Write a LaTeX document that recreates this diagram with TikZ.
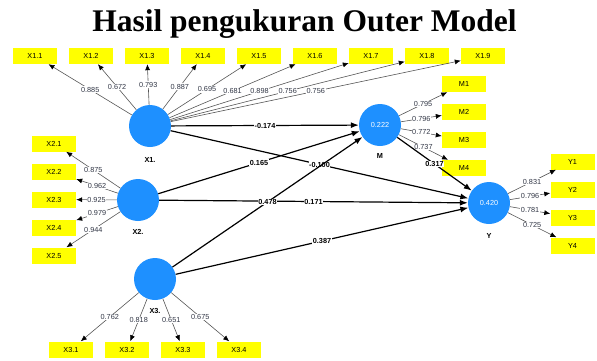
\documentclass[tikz,border=0pt]{standalone}
\usepackage{fontspec}
\setmainfont{Liberation Serif}
\setsansfont{Liberation Sans}
\usetikzlibrary{arrows.meta, positioning}
\definecolor{lvblue}{RGB}{30,144,255}
\definecolor{indyellow}{RGB}{255,255,0}
\definecolor{loadgray}{RGB}{85,85,85}
\definecolor{loadtext}{RGB}{50,55,70}

\tikzset{
  latent/.style={circle, fill=lvblue, minimum size=42pt, inner sep=0pt, text=white,
    font=\sffamily\fontsize{7.3}{8}\selectfont},
  indicator/.style={rectangle, fill=indyellow, minimum width=44pt, minimum height=16pt,
    inner sep=0pt, font=\sffamily\fontsize{7.3}{8}\selectfont},
  lvname/.style={inner sep=1pt, font=\sffamily\bfseries\fontsize{7.3}{8}\selectfont},
  loading/.style={draw=loadgray, line width=0.6pt, -{Latex[length=6pt,width=5pt,color=black]}},
  pathcoef/.style={draw=black, line width=1.2pt, -{Latex[length=8pt,width=6pt]}},
  loadlabel/.style={fill=white, inner sep=0.6pt, text=loadtext,
    font=\sffamily\fontsize{7.3}{8}\selectfont},
  coeflabel/.style={fill=white, inner sep=0.6pt,
    font=\sffamily\bfseries\fontsize{7.3}{8}\selectfont}
}

\begin{document}
\begin{tikzpicture}[x=1pt,y=-1pt]
\useasboundingbox (0,0) rectangle (597,360);

\node[anchor=base, inner sep=0pt, font=\bfseries\fontsize{31.5}{36}\selectfont] (title) at (304.5,31) {Hasil pengukuran Outer Model};

% latent variables
\node[latent] (X1) at (150,126) {};
\node[latent] (X2) at (138,200) {};
\node[latent] (X3) at (155,279) {};
\node[latent] (M) at (380,125) {0.222};
\node[latent] (Y) at (489,203) {0.420};

\node[lvname, below=9pt of X1] (X1name) {X1.};
\node[lvname, below=7pt of X2] (X2name) {X2.};
\node[lvname, below=7pt of X3] (X3name) {X3.};
\node[lvname, below=6pt of M] (Mname) {M};
\node[lvname, below=8pt of Y] (Yname) {Y};

% indicators
\foreach \i in {1,...,9} \node[indicator] (X1\i) at ({35+56*(\i-1)},56) {X1.\i};
\foreach \i in {1,...,5} \node[indicator] (X2\i) at (54,{143.5+28*(\i-1)}) {X2.\i};
\foreach \i in {1,...,4} \node[indicator] (X3\i) at ({71+56*(\i-1)},349.5) {X3.\i};
\foreach \i in {1,...,4} \node[indicator] (M\i) at (464,{84+28*(\i-1)}) {M\i};
\foreach \i in {1,...,4} \node[indicator] (Y\i) at (572.5,{161.5+28*(\i-1)}) {Y\i};

% outer loadings
\foreach \i/\v in {1/0.885, 2/0.672, 3/0.793, 4/0.887, 5/0.695, 6/0.681, 7/0.898, 8/0.756, 9/0.756}
  \draw[loading] (X1) -- node[loadlabel]{\v} (X1\i);
\foreach \i/\v in {1/0.875, 2/0.962, 3/0.925, 4/0.979, 5/0.944}
  \draw[loading] (X2) -- node[loadlabel]{\v} (X2\i);
\foreach \i/\v in {1/0.762, 2/0.818, 3/0.651, 4/0.675}
  \draw[loading] (X3) -- node[loadlabel]{\v} (X3\i);
\foreach \i/\v in {1/0.795, 2/0.796, 3/0.772, 4/0.737}
  \draw[loading] (M) -- node[loadlabel]{\v} (M\i);
\foreach \i/\v in {1/0.831, 2/0.796, 3/0.781, 4/0.725}
  \draw[loading] (Y) -- node[loadlabel]{\v} (Y\i);

% inner model
\draw[pathcoef] (X1) -- node[coeflabel]{-0.174} (M);
\draw[pathcoef] (X1) -- node[coeflabel]{-0.100} (Y);
\draw[pathcoef] (X2) -- node[coeflabel]{0.165} (M);
\draw[pathcoef] (X2) -- node[coeflabel]{0.171} (Y);
\draw[pathcoef] (X3) -- node[coeflabel]{0.478} (M);
\draw[pathcoef] (X3) -- node[coeflabel]{0.387} (Y);
\draw[pathcoef] (M) -- node[coeflabel]{0.317} (Y);
\end{tikzpicture}
\end{document}
